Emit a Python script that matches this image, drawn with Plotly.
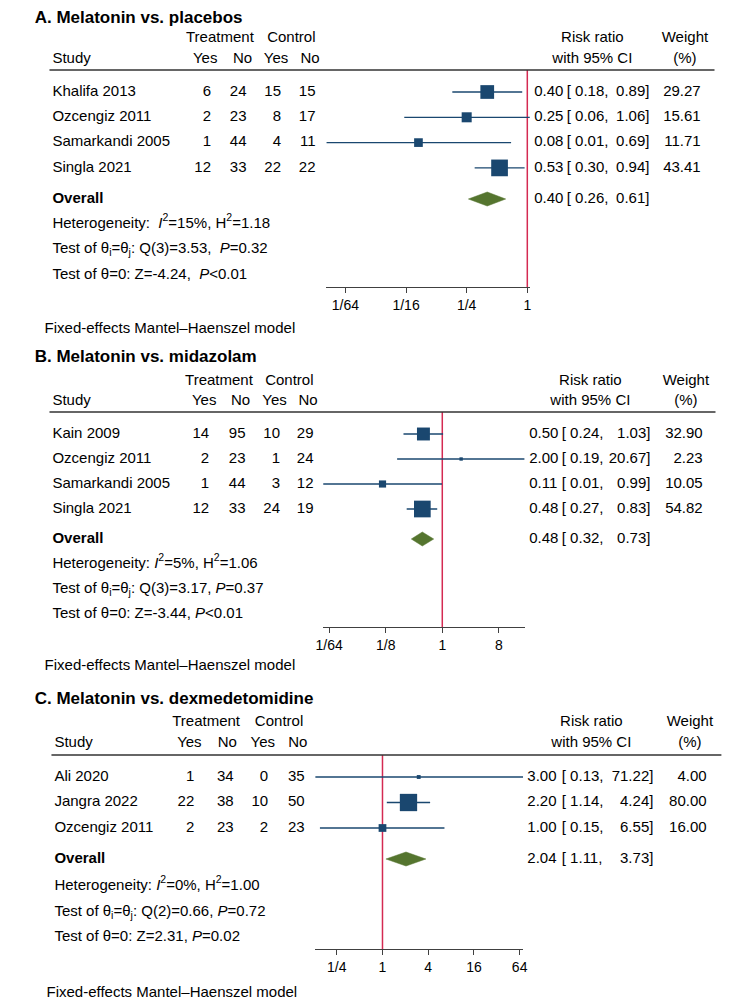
import math
import plotly.graph_objects as go

W, H = 744, 1002
OFF = 8  # page body margin of the html page

# ---------------- Data ----------------
# Panel A: Melatonin vs. placebos
a_title = "A. Melatonin vs. placebos"
a_studies = ["Khalifa 2013", "Ozcengiz 2011", "Samarkandi 2005", "Singla 2021"]
a_t_yes = [6, 2, 1, 12]
a_t_no = [24, 23, 44, 33]
a_c_yes = [15, 8, 4, 22]
a_c_no = [15, 17, 11, 22]
a_rr = [0.40, 0.25, 0.083, 0.53]
a_lo = [0.18, 0.06, 0.0101, 0.30]
a_hi = [0.89, 1.06, 0.69, 0.94]
a_weight = [29.27, 15.61, 11.71, 43.41]
a_overall = [0.40, 0.26, 0.61]
a_stats = ["Heterogeneity:\u00a0\u00a0<i>I</i><sup>2</sup>=15%, H<sup>2</sup>=1.18",
           "Test of θ<sub>i</sub>=θ<sub>j</sub>: Q(3)=3.53,\u00a0\u00a0<i>P</i>=0.32",
           "Test of θ=0: Z=-4.24,\u00a0\u00a0<i>P</i>&lt;0.01"]
a_tickvals = [1/64, 1/16, 1/4, 1]
a_ticktext = ["1/64", "1/16", "1/4", "1"]

# Panel B: Melatonin vs. midazolam
b_title = "B. Melatonin vs. midazolam"
b_studies = ["Kain 2009", "Ozcengiz 2011", "Samarkandi 2005", "Singla 2021"]
b_t_yes = [14, 2, 1, 12]
b_t_no = [95, 23, 44, 33]
b_c_yes = [10, 1, 3, 24]
b_c_no = [29, 24, 12, 19]
b_rr = [0.50, 2.00, 0.111, 0.48]
b_lo = [0.24, 0.19, 0.0125, 0.27]
b_hi = [1.03, 20.67, 0.99, 0.83]
b_weight = [32.90, 2.23, 10.05, 54.82]
b_overall = [0.48, 0.32, 0.73]
b_stats = ["Heterogeneity: <i>I</i><sup>2</sup>=5%, H<sup>2</sup>=1.06",
           "Test of θ<sub>i</sub>=θ<sub>j</sub>: Q(3)=3.17, <i>P</i>=0.37",
           "Test of θ=0: Z=-3.44, <i>P</i>&lt;0.01"]
b_tickvals = [1/64, 1/8, 1, 8]
b_ticktext = ["1/64", "1/8", "1", "8"]

# Panel C: Melatonin vs. dexmedetomidine
c_title = "C. Melatonin vs. dexmedetomidine"
c_studies = ["Ali 2020", "Jangra 2022", "Ozcengiz 2011"]
c_t_yes = [1, 22, 2]
c_t_no = [34, 38, 23]
c_c_yes = [0, 10, 2]
c_c_no = [35, 50, 23]
c_rr = [3.00, 2.20, 1.00]
c_lo = [0.13, 1.14, 0.15]
c_hi = [71.22, 4.24, 6.55]
c_weight = [4.00, 80.00, 16.00]
c_overall = [2.04, 1.11, 3.73]
c_stats = ["Heterogeneity: <i>I</i><sup>2</sup>=0%, H<sup>2</sup>=1.00",
           "Test of θ<sub>i</sub>=θ<sub>j</sub>: Q(2)=0.66, <i>P</i>=0.72",
           "Test of θ=0: Z=2.31, <i>P</i>=0.02"]
c_tickvals = [1/4, 1, 4, 16, 64]
c_ticktext = ["1/4", "1", "4", "16", "64"]

footnote = "Fixed-effects Mantel–Haenszel model"

# ---------------- Layout (pixel positions in the page) ----------------
lay_a = dict(title_y=19, hdr1=38, hdr2=59, line_y=70, row0=92, dy=25.3, overall_y=199,
             stats_y=[224, 249, 275], axis_y=287, foot_y=329, foot_x=38, study_x=46,
             x_one=528, ppl=30.77, col_r=[207, 243, 278, 313], col_hc=[201, 239, 273, 307.5],
             treat_c=216, ctrl_c=288.5, est_x=535, br_x=568, hi_r=652, w_r=704,
             rr_c=594, w_c=688, hl=(43, 718), msize=16.7)
lay_b = dict(title_y=358, hdr1=381, hdr2=401, line_y=412, row0=434, dy=25, overall_y=539,
             stats_y=[564, 589, 614], axis_y=627, foot_y=666, foot_x=38, study_x=46,
             x_one=441.7, ppl=19.13, col_r=[205, 242, 277, 311], col_hc=[200, 237, 271.5, 305.5],
             treat_c=215, ctrl_c=286.5, est_x=530, br_x=563, hi_r=653, w_r=706,
             rr_c=592, w_c=689, hl=(43, 719), msize=16.7)
lay_c = dict(title_y=700, hdr1=722, hdr2=743, line_y=755, row0=777, dy=25.5, overall_y=859,
             stats_y=[886, 912, 937], axis_y=949, foot_y=993, foot_x=40, study_x=48,
             x_one=381, ppl=23.2, col_r=[190, 230, 265, 302], col_hc=[185, 223.5, 259.5, 295],
             treat_c=202, ctrl_c=276, est_x=528, br_x=563, hi_r=656, w_r=710,
             rr_c=593, w_c=693, hl=(45, 725), msize=17.3)

panels = [
    dict(title=a_title, studies=a_studies, cols=[a_t_yes, a_t_no, a_c_yes, a_c_no], rr=a_rr, lo=a_lo,
         hi=a_hi, w=a_weight, ov=a_overall, stats=a_stats, tv=a_tickvals, tt=a_ticktext, lay=lay_a),
    dict(title=b_title, studies=b_studies, cols=[b_t_yes, b_t_no, b_c_yes, b_c_no], rr=b_rr, lo=b_lo,
         hi=b_hi, w=b_weight, ov=b_overall, stats=b_stats, tv=b_tickvals, tt=b_ticktext, lay=lay_b),
    dict(title=c_title, studies=c_studies, cols=[c_t_yes, c_t_no, c_c_yes, c_c_no], rr=c_rr, lo=c_lo,
         hi=c_hi, w=c_weight, ov=c_overall, stats=c_stats, tv=c_tickvals, tt=c_ticktext, lay=lay_c),
]

FONT = "Liberation Sans, Arial, Helvetica, sans-serif"
NAVY = "#1a476f"
GREEN = "#55752f"
RED = "#d42a52"
AXC = "#404040"


def fx(p):
    return (p - OFF) / W


def fy(p):
    return 1 - (p - OFF) / H


fig = go.Figure()
shapes = []
layout_axes = {}

# text collector (drawn on a full-page pixel overlay axis)
TX, TY, TS, TP, TZ = [], [], [], [], []
POS = {"left": "middle right", "right": "middle left", "center": "middle center"}


def T(x, y, s, xa="left", size=15, bold=False):
    if bold:
        s = f"<b>{s}</b>"
    TX.append(x)
    TY.append(y)
    TS.append(s)
    TP.append(POS[xa])
    TZ.append(size)


for k, P in enumerate(panels, start=1):
    L = P["lay"]
    xa = "x" if k == 1 else f"x{k}"
    ya = "y" if k == 1 else f"y{k}"
    xkey = "xaxis" if k == 1 else f"xaxis{k}"
    ykey = "yaxis" if k == 1 else f"yaxis{k}"

    lo_min, hi_max = min(P["lo"]), max(P["hi"])
    left = L["x_one"] + L["ppl"] * math.log2(lo_min)
    right = L["x_one"] + L["ppl"] * math.log2(hi_max)
    layout_axes[xkey] = dict(domain=[fx(left), fx(right)], type="log",
                             range=[math.log10(lo_min), math.log10(hi_max)], anchor=ya,
                             showline=True, linecolor=AXC, linewidth=1, ticks="outside", ticklen=5,
                             tickwidth=1, tickcolor=AXC, tickvals=P["tv"], ticktext=P["tt"],
                             tickfont=dict(family=FONT, size=14, color="black"),
                             showgrid=False, zeroline=False, fixedrange=True)
    layout_axes[ykey] = dict(domain=[fy(L["axis_y"]), fy(L["line_y"])],
                             range=[L["axis_y"], L["line_y"]], visible=False, anchor=xa,
                             showgrid=False, zeroline=False, fixedrange=True)

    n = len(P["studies"])
    ys = [L["row0"] + i * L["dy"] for i in range(n)]

    # CI lines
    cx, cy = [], []
    for lo, hi, y in zip(P["lo"], P["hi"], ys):
        cx += [lo, hi, None]
        cy += [y, y, None]
    fig.add_trace(go.Scatter(x=cx, y=cy, mode="lines", line=dict(color=NAVY, width=1.3),
                             xaxis=xa, yaxis=ya, cliponaxis=False, showlegend=False, hoverinfo="skip"))
    # weight squares
    wmax = max(P["w"])
    sizes = [L["msize"] * math.sqrt(w / wmax) for w in P["w"]]
    fig.add_trace(go.Scatter(x=P["rr"], y=ys, mode="markers",
                             marker=dict(symbol="square", size=sizes, color=NAVY, opacity=1,
                                         line=dict(width=0)),
                             xaxis=xa, yaxis=ya, cliponaxis=False, showlegend=False))
    # overall diamond
    oe, ol, oh = P["ov"]
    oy = L["overall_y"]
    fig.add_trace(go.Scatter(x=[ol, oe, oh, oe, ol], y=[oy, oy - 7, oy, oy + 7, oy], mode="lines",
                             fill="toself", fillcolor=GREEN, line=dict(color=GREEN, width=0.5),
                             xaxis=xa, yaxis=ya, cliponaxis=False, showlegend=False, hoverinfo="skip"))
    # no-effect line
    shapes.append(dict(type="line", xref=xa, yref=ya, x0=1, x1=1, y0=L["line_y"], y1=L["axis_y"],
                       line=dict(color=RED, width=1.5), layer="below"))
    # header rule
    shapes.append(dict(type="line", xref="paper", yref="paper", x0=fx(L["hl"][0]), x1=fx(L["hl"][1]),
                       y0=fy(L["line_y"]), y1=fy(L["line_y"]), line=dict(color="#333333", width=1.5)))

    # texts
    T(28, L["title_y"], P["title"], size=17, bold=True)
    T(L["treat_c"], L["hdr1"], "Treatment", xa="center")
    T(L["ctrl_c"], L["hdr1"], "Control", xa="center")
    T(L["study_x"], L["hdr2"], "Study")
    for c, lab in zip(L["col_hc"], ["Yes", "No", "Yes", "No"]):
        T(c, L["hdr2"], lab, xa="center")
    T(L["rr_c"], L["hdr1"], "Risk ratio", xa="center")
    T(L["rr_c"], L["hdr2"], "with 95% CI", xa="center")
    T(L["w_c"], L["hdr1"], "Weight", xa="center")
    T(L["w_c"], L["hdr2"], "(%)", xa="center")

    for i in range(n):
        y = ys[i]
        T(L["study_x"], y, P["studies"][i])
        for col, xr in zip(P["cols"], L["col_r"]):
            T(xr, y, str(col[i]), xa="right")
        T(L["est_x"], y, f"{P['rr'][i]:.2f}")
        T(L["br_x"], y, f"[ {P['lo'][i]:.2f},")
        T(L["hi_r"], y, f"{P['hi'][i]:.2f}]", xa="right")
        T(L["w_r"], y, f"{P['w'][i]:.2f}", xa="right")

    T(L["study_x"], oy, "Overall", bold=True)
    T(L["est_x"], oy, f"{oe:.2f}")
    T(L["br_x"], oy, f"[ {ol:.2f},")
    T(L["hi_r"], oy, f"{oh:.2f}]", xa="right")
    for s, y in zip(P["stats"], L["stats_y"]):
        T(L["study_x"], y, s)
    T(L["foot_x"], L["foot_y"], footnote)

# full-page pixel overlay for text
layout_axes["xaxis4"] = dict(domain=[0, 1], range=[OFF, W + OFF], visible=False, anchor="y4",
                             fixedrange=True, showgrid=False, zeroline=False)
layout_axes["yaxis4"] = dict(domain=[0, 1], range=[H + OFF, OFF], visible=False, anchor="x4",
                             fixedrange=True, showgrid=False, zeroline=False)
fig.add_trace(go.Scatter(x=TX, y=TY, text=TS, mode="text", textposition=TP,
                         textfont=dict(family=FONT, size=TZ, color="black"),
                         xaxis="x4", yaxis="y4", cliponaxis=False, showlegend=False, hoverinfo="skip"))

fig.update_layout(width=W, height=H, margin=dict(l=0, r=0, t=0, b=0), paper_bgcolor="white",
                  plot_bgcolor="rgba(0,0,0,0)", showlegend=False, shapes=shapes,
                  font=dict(family=FONT, size=15, color="black"), **layout_axes)

fig.write_html("out.html")
